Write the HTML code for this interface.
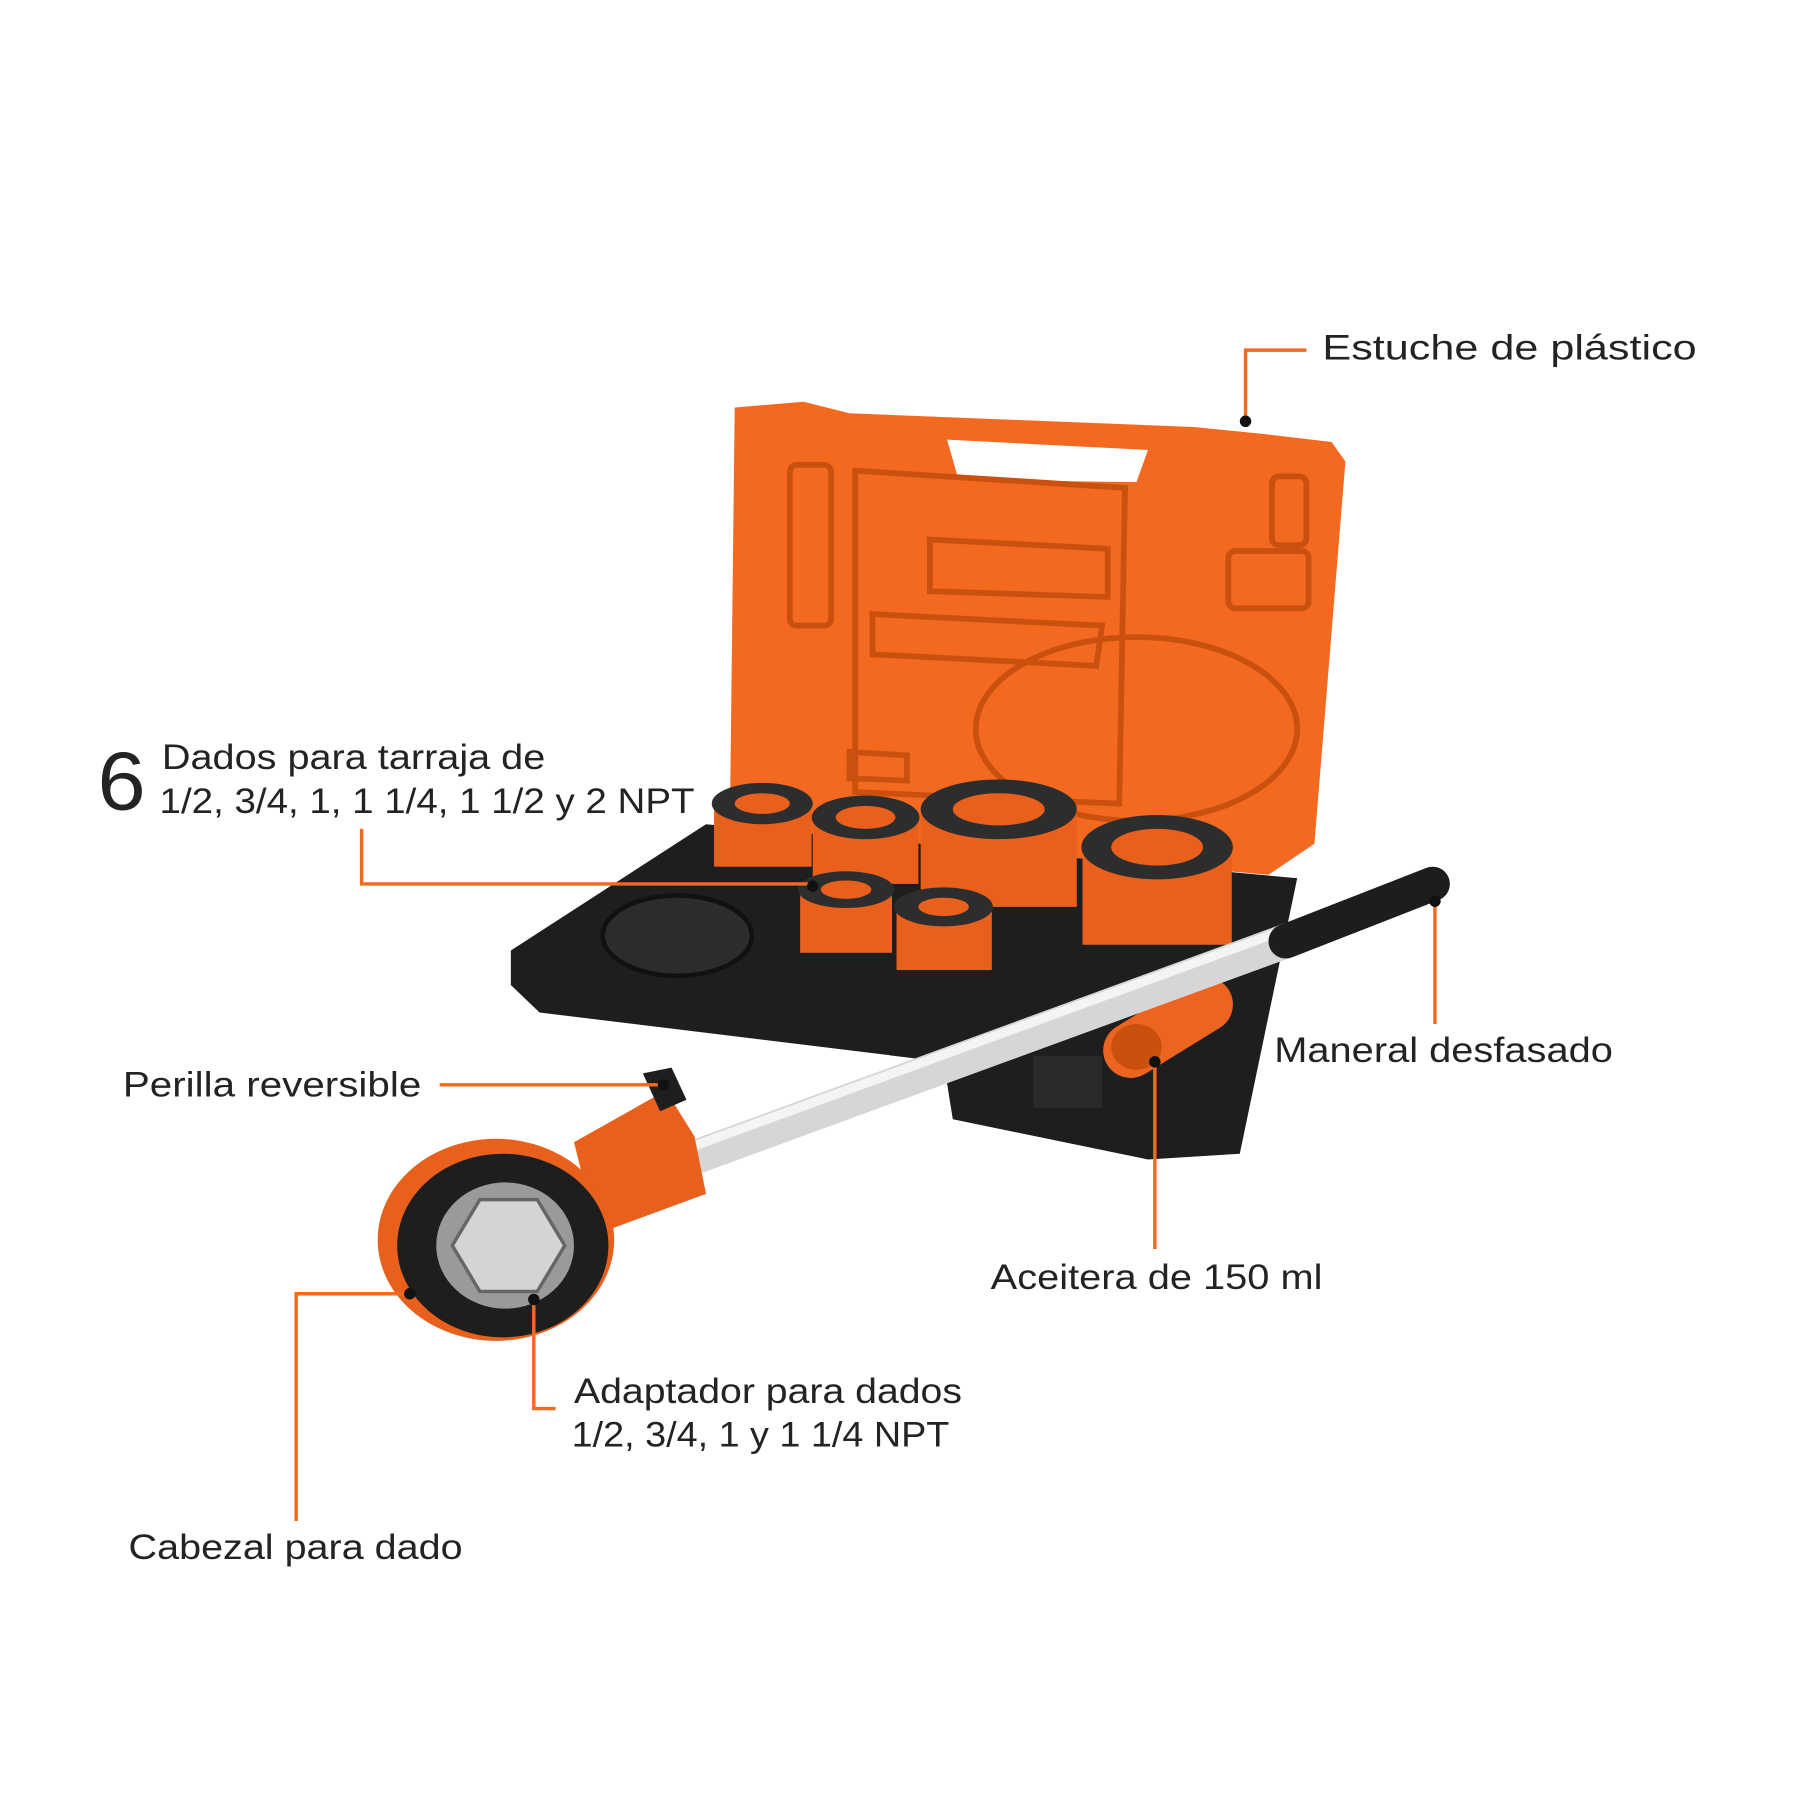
<!DOCTYPE html>
<html><head><meta charset="utf-8">
<style>
html,body{margin:0;padding:0;background:#fff;}
svg{display:block;}
text{font-family:"Liberation Sans",sans-serif;fill:#232323;}
</style></head>
<body>
<svg width="1800" height="1800" viewBox="0 0 1568 1568" xmlns="http://www.w3.org/2000/svg">
<rect width="1568" height="1568" fill="#fff"/>
<polygon points="640,355 700,350 740,360 1040,372 1100,378 1160,385 1172,402 1145,735 1105,762 645,722 636,700" fill="#f2691f"/>
<polygon points="825,383 1000,392 990,420 835,418" fill="#fff"/>
<g fill="none" stroke="#c9500f" stroke-width="5">
<rect x="688" y="405" width="36" height="140" rx="6"/>
<rect x="1108" y="415" width="30" height="60" rx="6"/>
<path d="M745 410 L980 425 L975 700 L745 690 Z"/>
<path d="M810 470 L965 478 L965 520 L810 515 Z"/>
<path d="M760 535 L960 545 L955 580 L760 570 Z"/>
<ellipse cx="990" cy="635" rx="140" ry="80"/>
<rect x="1070" y="480" width="70" height="50" rx="6"/>
<path d="M740 655 L790 658 L790 680 L740 678 Z"/>
</g>
<polygon points="445,828 615,718 1130,765 1080,1005 1000,1010 830,975 822,925 470,882 445,858" fill="#1e1e1e"/>
<ellipse cx="590" cy="815" rx="65" ry="35" fill="#2c2c2c" stroke="#111" stroke-width="4"/>
<rect x="900" y="920" width="60" height="45" fill="#2a2a2a"/>
<g>
<rect x="622" y="700" width="85" height="55" fill="#e8601c"/><ellipse cx="664" cy="700" rx="44" ry="18" fill="#2d2d2d"/><ellipse cx="664" cy="700" rx="24" ry="9" fill="#e8601c"/>
<rect x="708" y="712" width="92" height="58" fill="#e8601c"/><ellipse cx="754" cy="712" rx="47" ry="19" fill="#2d2d2d"/><ellipse cx="754" cy="712" rx="26" ry="10" fill="#e8601c"/>
<rect x="802" y="705" width="136" height="85" fill="#e8601c"/><ellipse cx="870" cy="705" rx="68" ry="26" fill="#2d2d2d"/><ellipse cx="870" cy="705" rx="40" ry="14" fill="#e8601c"/>
<rect x="943" y="738" width="130" height="85" fill="#e8601c"/><ellipse cx="1008" cy="738" rx="66" ry="28" fill="#2d2d2d"/><ellipse cx="1008" cy="738" rx="40" ry="16" fill="#e8601c"/>
<rect x="697" y="775" width="80" height="55" fill="#e8601c"/><ellipse cx="737" cy="775" rx="42" ry="16" fill="#2d2d2d"/><ellipse cx="737" cy="775" rx="22" ry="8" fill="#e8601c"/>
<rect x="781" y="790" width="83" height="55" fill="#e8601c"/><ellipse cx="822" cy="790" rx="43" ry="17" fill="#2d2d2d"/><ellipse cx="822" cy="790" rx="22" ry="8" fill="#e8601c"/>
</g>
<line x1="985" y1="915" x2="1050" y2="875" stroke="#ec6420" stroke-width="48" stroke-linecap="round"/>
<ellipse cx="990" cy="912" rx="22" ry="20" fill="#c9500f"/>
<line x1="600" y1="1010" x2="1125" y2="818" stroke="#d6d6d6" stroke-width="30"/>
<line x1="600" y1="1000" x2="1125" y2="808" stroke="#f4f4f4" stroke-width="8"/>
<line x1="1120" y1="820" x2="1248" y2="770" stroke="#1d1d1d" stroke-width="30" stroke-linecap="round"/>
<polygon points="500,995 580,950 605,990 615,1040 520,1075" fill="#e8601c"/>
<ellipse cx="432" cy="1080" rx="103" ry="88" fill="#e8601c"/>
<ellipse cx="438" cy="1085" rx="92" ry="80" fill="#1e1e1e"/>
<ellipse cx="440" cy="1085" rx="60" ry="55" fill="#9a9a9a"/>
<polygon points="418,1045 468,1045 492,1085 468,1125 418,1125 394,1085" fill="#d4d4d4" stroke="#666" stroke-width="3"/>
<polygon points="560,935 585,930 598,958 575,968" fill="#1e1e1e"/>
<g fill="none" stroke="#f26a1f" stroke-width="3">
<polyline points="1085,367 1085,305 1138,305"/>
<polyline points="315,722 315,770 706,770"/>
<polyline points="383,945 578,945"/>
<polyline points="1250,785 1250,892"/>
<polyline points="1006,925 1006,1088"/>
<polyline points="357,1127 258,1127 258,1325"/>
<polyline points="465,1132 465,1227 484,1227"/>
</g>
<g fill="#111">
<circle cx="1085" cy="367" r="5"/><circle cx="708" cy="772" r="5"/><circle cx="578" cy="945" r="5"/>
<circle cx="1250" cy="785" r="5"/><circle cx="1006" cy="925" r="5"/><circle cx="357" cy="1127" r="5"/><circle cx="465" cy="1132" r="5"/>
</g>
<g font-size="31">
<text x="1152" y="313" textLength="326" lengthAdjust="spacingAndGlyphs">Estuche de plástico</text>
<text x="85" y="705" font-size="72" textLength="42" lengthAdjust="spacingAndGlyphs">6</text>
<text x="141" y="670" textLength="334" lengthAdjust="spacingAndGlyphs">Dados para tarraja de</text>
<text x="139" y="708" textLength="466" lengthAdjust="spacingAndGlyphs">1/2, 3/4, 1, 1  1/4, 1  1/2 y 2 NPT</text>
<text x="107" y="955" textLength="260" lengthAdjust="spacingAndGlyphs">Perilla reversible</text>
<text x="1110" y="925" textLength="295" lengthAdjust="spacingAndGlyphs">Maneral desfasado</text>
<text x="863" y="1123" textLength="289" lengthAdjust="spacingAndGlyphs">Aceitera de 150 ml</text>
<text x="500" y="1222" textLength="338" lengthAdjust="spacingAndGlyphs">Adaptador para dados</text>
<text x="498" y="1260" textLength="329" lengthAdjust="spacingAndGlyphs">1/2, 3/4, 1 y 1  1/4 NPT</text>
<text x="112" y="1358" textLength="291" lengthAdjust="spacingAndGlyphs">Cabezal para dado</text>
</g>
</svg>
</body></html>
